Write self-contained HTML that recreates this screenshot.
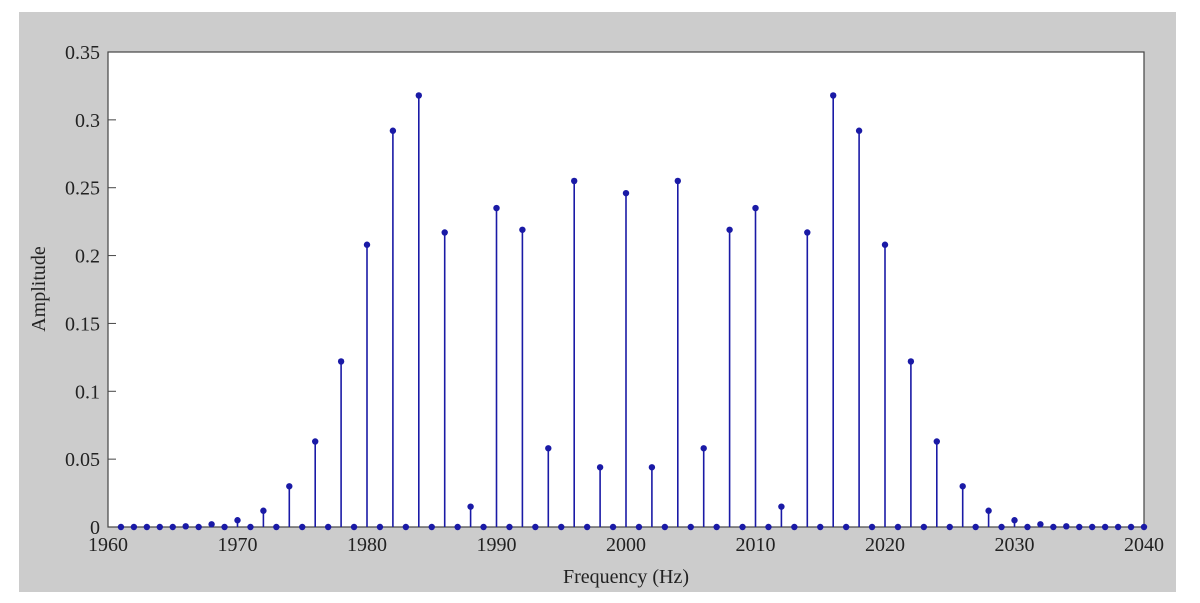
<!DOCTYPE html>
<html><head><meta charset="utf-8"><style>
body{margin:0;background:#fff;}
svg{display:block;font-family:"Liberation Serif",serif;}
</style></head><body>
<svg id="chart" width="1200" height="603">
<rect x="19" y="12" width="1157" height="580" fill="#cccccc"/>
<rect x="108" y="52" width="1036" height="475" fill="#fff" stroke="#444" stroke-width="1.2"/>
<g id="ticks"></g>
<g id="stems"></g>
<text x="626" y="583" font-size="20" text-anchor="middle" fill="#222">Frequency (Hz)</text>
<text x="45" y="289" font-size="20" text-anchor="middle" fill="#222" transform="rotate(-90 45 289)">Amplitude</text>
</svg>
<script>
const halfFreqs=[1970,1972,1974,1976,1978,1980,1982,1984,1986,1988,1990,1992,1994,1996,1998,2000];
const halfAmps=[0.005,0.012,0.03,0.063,0.122,0.208,0.292,0.318,0.217,0.015,0.235,0.219,0.058,0.255,0.044,0.246];
const smallFreqs=[1966,1968,2032,2034];
const smallAmps=[0.0005,0.002,0.002,0.0005];
const xTicks=[1960,1970,1980,1990,2000,2010,2020,2030,2040];
const yTicks=[0,0.05,0.1,0.15,0.2,0.25,0.3,0.35];
const yTickLabels=["0","0.05","0.1","0.15","0.2","0.25","0.3","0.35"];
const X0=108,X1=1144,Y0=527,Y1=52;
const xs=v=>X0+(v-1960)/80*(X1-X0);
const ys=v=>Y0-v/0.35*(Y0-Y1);
const NS="http://www.w3.org/2000/svg";
function mk(t,a,p){const e=document.createElementNS(NS,t);for(const k in a)e.setAttribute(k,a[k]);p.appendChild(e);return e;}
const amp={};
for(let f=1961;f<=2040;f++)amp[f]=0;
halfFreqs.forEach((f,i)=>{amp[f]=halfAmps[i];amp[4000-f]=halfAmps[i];});
smallFreqs.forEach((f,i)=>{amp[f]=smallAmps[i];});
const tg=document.getElementById('ticks');
xTicks.forEach(v=>{
 const x=xs(v);
 const t=mk('line',{x1:x,x2:x,y1:Y0,y2:Y0-8,stroke:'#444'},tg);
 
 
 const l=mk('text',{x:x,y:Y0+24,'font-size':20,'text-anchor':'middle',fill:'#222'},tg);
 l.textContent=v;
 
 
});
yTicks.forEach((v,i)=>{
 const y=ys(v);
 const t=mk('line',{x1:X0,x2:X0+8,y1:y,y2:y,stroke:'#444'},tg);
 
 
 const l=mk('text',{x:X0-8,y:y+7,'font-size':20,'text-anchor':'end',fill:'#222'},tg);
 l.textContent=yTickLabels[i];
 
 
});
const sg=document.getElementById('stems');
for(let f=1961;f<=2040;f++){
 const x=xs(f),y=ys(amp[f]);
 const ln=mk('line',{x1:x,x2:x,y1:Y0,y2:y,stroke:'#1a1aa6','stroke-width':1.6},sg);
 
 
 const c=mk('circle',{cx:x,cy:y,r:3.2,fill:'#1a1aa6'},sg);
 
 
}
</script>
</body></html>
